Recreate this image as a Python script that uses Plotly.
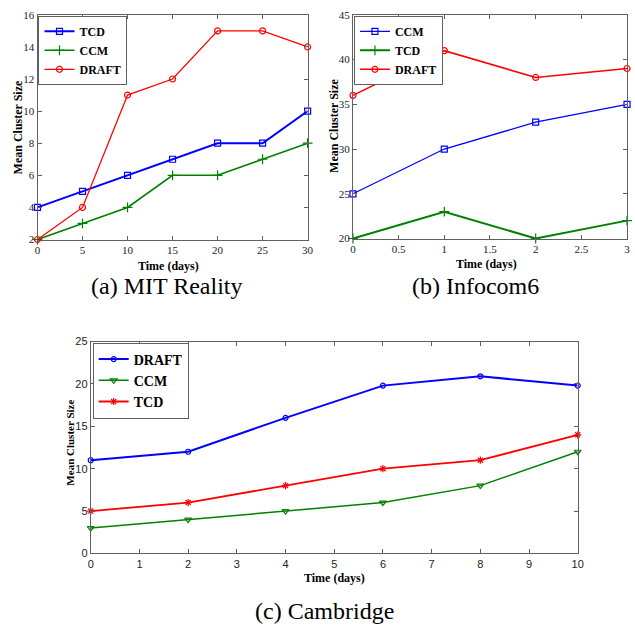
import plotly.graph_objects as go

# ---------------- data ----------------
# (a) MIT Reality
a_days = [0, 5, 10, 15, 20, 25, 30]
a_tcd = [4, 5, 6, 7, 8, 8, 10]
a_ccm = [2, 3, 4, 6, 6, 7, 8]
a_draft = [2, 4, 11, 12, 15, 15, 14]

# (b) Infocom6
b_days = [0, 1, 2, 3]
b_ccm = [25, 30, 33, 35]
b_tcd = [20, 23, 20, 22]
b_draft = [36, 41, 38, 39]

# (c) Cambridge
c_days = [0, 2, 4, 6, 8, 10]
c_draft = [11, 12, 16, 19.8, 20.9, 19.8]
c_ccm = [3, 4, 5, 6, 8, 12]
c_tcd = [5, 6, 8, 10, 11, 14]

a_xticks = [0, 5, 10, 15, 20, 25, 30]
a_yticks = [2, 4, 6, 8, 10, 12, 14, 16]
b_xticks = [0, 0.5, 1, 1.5, 2, 2.5, 3]
b_yticks = [20, 25, 30, 35, 40, 45]
c_xticks = list(range(0, 11))
c_yticks = [0, 5, 10, 15, 20, 25]

# ---------------- style ----------------
W = 635
BLUE = "#0000FF"
GREEN = "#008000"
RED = "#FF0000"
SERIF = "Liberation Serif, Times New Roman, serif"
SANS = "Liberation Sans, Arial, sans-serif"
AXC = "#606060"


def px(x):
    return x / W


def py(y):
    return 1 - y / W


fig = go.Figure()


def add(x, y, name, color, symbol, width, xa, ya, legend, size=6):
    fig.add_trace(go.Scatter(
        x=x, y=y, name=name, mode="lines+markers",
        line=dict(color=color, width=width),
        marker=dict(symbol=symbol, size=size, color=color,
                    line=dict(color=color, width=1.2)),
        xaxis=xa, yaxis=ya, legend=legend, cliponaxis=False,
    ))


add(a_days, a_tcd, "TCD", BLUE, "square-open", 2, "x", "y", "legend")
add(a_days, a_ccm, "CCM", GREEN, "cross-thin-open", 1.6, "x", "y", "legend", 7)
add(a_days, a_draft, "DRAFT", RED, "circle-open", 1.3, "x", "y", "legend")

add(b_days, b_ccm, "CCM", BLUE, "square-open", 1.3, "x2", "y2", "legend2")
add(b_days, b_tcd, "TCD", GREEN, "cross-thin-open", 2, "x2", "y2", "legend2", 7)
add(b_days, b_draft, "DRAFT", RED, "circle-open", 1.6, "x2", "y2", "legend2")

add(c_days, c_draft, "DRAFT", BLUE, "circle-open", 2, "x3", "y3", "legend3", 5)
add(c_days, c_ccm, "CCM", GREEN, "triangle-down-open", 1.5, "x3", "y3", "legend3", 6)
add(c_days, c_tcd, "TCD", RED, "asterisk-open", 1.8, "x3", "y3", "legend3", 6)


def axis(domain, rng, ticks, anchor, font):
    return dict(
        domain=domain, range=rng, tickmode="array", tickvals=ticks,
        ticks="inside", ticklen=4, tickcolor=AXC, tickwidth=1,
        showline=True, linecolor=AXC, linewidth=1, mirror="ticks",
        showgrid=False, zeroline=False, anchor=anchor,
        tickfont=font,
    )


tf_serif = dict(family=SERIF, size=11, color="#222")
tf_sans = dict(family=SANS, size=11, color="#222")

legend_common = dict(
    bgcolor="white", bordercolor=AXC, borderwidth=1,
    xanchor="left", yanchor="top", tracegroupgap=0,
    itemwidth=30,
)

fig.update_layout(
    width=W, height=W,
    margin=dict(l=0, r=0, t=0, b=0),
    paper_bgcolor="white", plot_bgcolor="white",
    xaxis=axis([px(35), px(309)], [0, 30], a_xticks, "y", tf_serif),
    yaxis=axis([py(238), py(9)], [2, 16], a_yticks, "x", tf_serif),
    xaxis2=axis([px(355), px(633)], [0, 3], b_xticks, "y2", tf_serif),
    yaxis2=axis([py(237), py(9)], [20, 45], b_yticks, "x2", tf_serif),
    xaxis3=axis([px(89), px(583)], [0, 10], c_xticks, "y3", tf_sans),
    yaxis3=axis([py(558), py(342)], [0, 25], c_yticks, "x3", tf_sans),
    legend=dict(x=px(36), y=py(10),
                font=dict(family=SERIF, size=12, color="black", weight="bold"),
                **legend_common),
    legend2=dict(x=px(356), y=py(10),
                 font=dict(family=SERIF, size=12, color="black", weight="bold"),
                 **legend_common),
    legend3=dict(x=px(91), y=py(343),
                 font=dict(family=SERIF, size=14, color="black", weight="bold"),
                 **legend_common),
)

title_font = dict(family=SERIF, size=12, color="black", weight="bold")
cap_font = dict(family=SERIF, size=24, color="black")

annots = [
    # axis titles
    dict(text="Mean Cluster Size", x=px(15), y=py(124), textangle=-90, font=title_font),
    dict(text="Time (days)", x=px(168), y=py(265), font=title_font),
    dict(text="Mean Cluster Size", x=px(335), y=py(122), textangle=-90, font=title_font),
    dict(text="Time (days)", x=px(490), y=py(263), font=title_font),
    dict(text="Mean Cluster Size", x=px(68), y=py(445), textangle=-90,
         font=dict(family=SERIF, size=11, color="black", weight="bold")),
    dict(text="Time (days)", x=px(336), y=py(583), font=title_font),
    # captions
    dict(text="(a) MIT Reality", x=px(166), y=py(285), font=cap_font),
    dict(text="(b) Infocom6", x=px(479), y=py(285), font=cap_font),
    dict(text="(c) Cambridge", x=px(326), y=py(617), font=cap_font),
]
for a in annots:
    a.update(xref="paper", yref="paper", showarrow=False,
             xanchor="center", yanchor="middle")
    fig.add_annotation(**a)

fig.write_html(
    "out.html",
    config={"displayModeBar": False},
    post_script="document.body.style.margin='0';document.body.style.overflow='hidden';",
)
